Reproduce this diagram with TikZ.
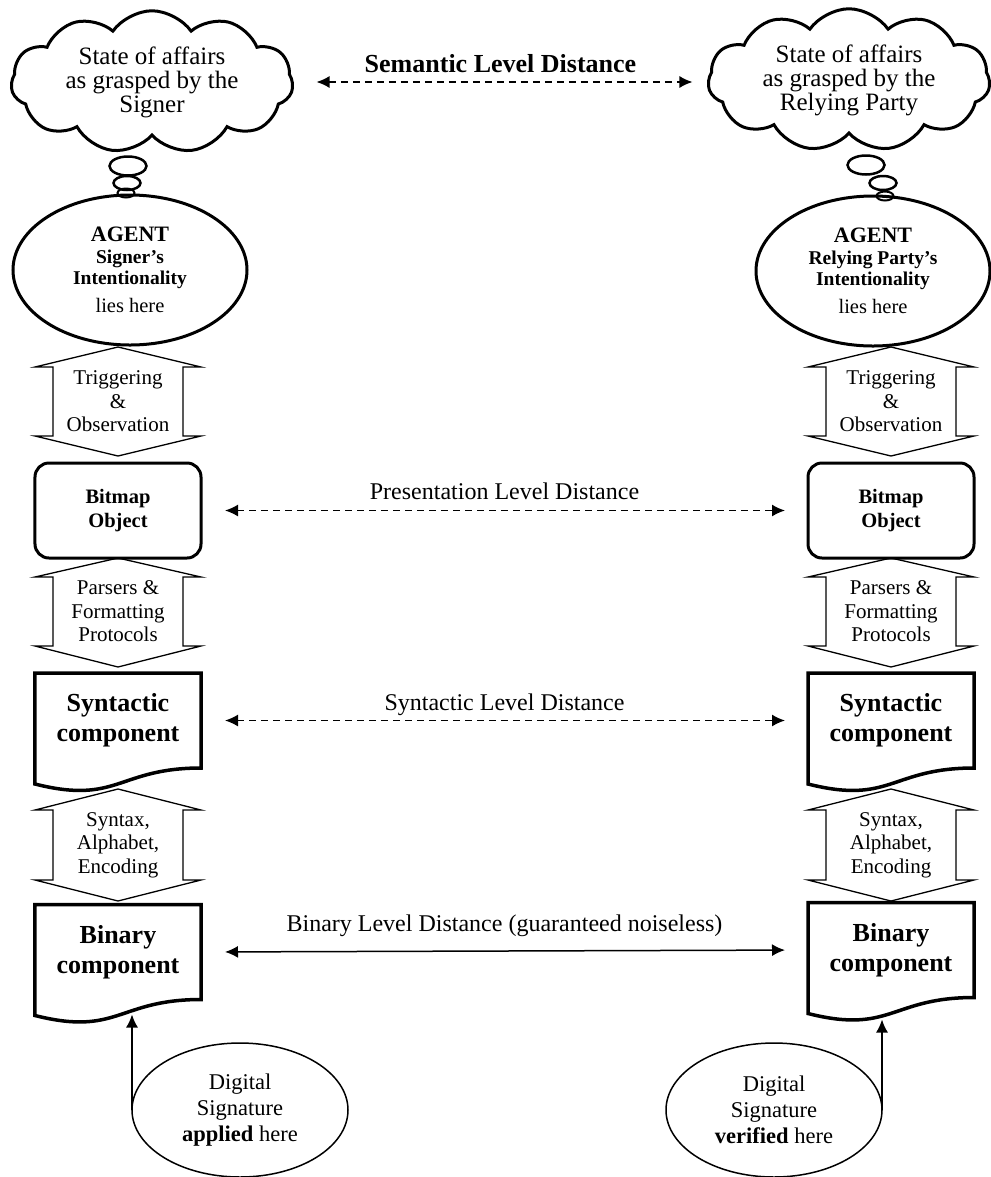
\documentclass[tikz,border=0pt]{standalone}
\usepackage{fontspec}
\setmainfont{Liberation Serif}
\usetikzlibrary{shapes.symbols, shapes.geometric, arrows.meta, calc}
\lineskiplimit=-50pt

\begin{document}
\begin{tikzpicture}[
  x=1bp, y=-1bp,
  every node/.style={align=center, inner sep=0pt, outer sep=0pt},
  thought/.style={cloud, draw, line width=3bp, cloud puffs=11, cloud puff arc=110, aspect=2.2,
    minimum width=282bp, minimum height=132bp, font=\fontsize{25bp}{24bp}\selectfont},
  bubble/.style={ellipse, draw, line width=2.5bp},
  agent/.style={ellipse, draw, line width=3bp, minimum width=234bp, minimum height=150bp,
    font=\fontsize{19.5bp}{21.5bp}\selectfont\bfseries},
  twoway/.style={draw, line width=1.3bp, line join=miter},
  small/.style={font=\fontsize{21bp}{23.5bp}\selectfont},
  bmp/.style={rectangle, draw, rounded corners=14bp, line width=3bp, minimum width=166bp,
    minimum height=95bp, font=\fontsize{20.5bp}{24bp}\selectfont\bfseries},
  docbox/.style={rectangle, minimum width=166bp, minimum height=95bp,
    font=\fontsize{26bp}{30bp}\selectfont\bfseries},
  docline/.style={draw, line width=3.5bp, line join=miter},
  sig/.style={ellipse, draw, line width=1.5bp, minimum width=216bp, minimum height=134bp,
    font=\fontsize{22.5bp}{26bp}\selectfont},
  lbl/.style={anchor=base, font=\fontsize{24bp}{24bp}\selectfont},
  arr/.style={-{Latex[length=13bp,width=12bp]}, line width=1.5bp},
  dasharr/.style={{Latex[length=13bp,width=12bp]}-{Latex[length=13bp,width=12bp]},
    line width=1.5bp, dash pattern=on 7bp off 5bp},
]
\useasboundingbox (0,0) rectangle (991,1177);

% clouds and agents
\node[thought] (cloudL) at (152,82) {State of affairs\\as grasped by the\\Signer};
\node[thought] (cloudR) at (849,80) {State of affairs\\as grasped by the\\Relying Party};
\node[bubble, minimum width=37bp, minimum height=19bp] (bubL1) at (128,166) {};
\node[bubble, minimum width=27bp, minimum height=14bp] (bubL2) at (127,183) {};
\node[bubble, minimum width=17bp, minimum height=9bp, line width=2bp] (bubL3) at (126,193) {};
\node[bubble, minimum width=37bp, minimum height=19bp] (bubR1) at (866,165) {};
\node[bubble, minimum width=27bp, minimum height=14bp] (bubR2) at (883,183) {};
\node[bubble, minimum width=17bp, minimum height=9bp, line width=2bp] (bubR3) at (885,196) {};
\node[agent] (agentL) at (130,270)
  {{\fontsize{22bp}{22bp}\selectfont AGENT}\\Signer’s\\Intentionality\\[6bp]{\mdseries\fontsize{20.5bp}{21.5bp}\selectfont lies here}};
\node[agent] (agentR) at (873,271)
  {{\fontsize{22bp}{22bp}\selectfont AGENT}\\Relying Party’s\\Intentionality\\[6bp]{\mdseries\fontsize{20.5bp}{21.5bp}\selectfont lies here}};

% two-way arrows between the levels
\foreach \side/\cx in {L/118, R/891}{
  \foreach \nm/\ya/\yb/\yc/\yd/\txt in {trig/347/367/436/456/{Triggering\\\&\\Observation},
      pars/558/577/646/667/{Parsers \&\\Formatting\\Protocols},
      enc/789/810/880/901/{Syntax,\\Alphabet,\\Encoding}}{
    \draw[twoway] (\cx,\ya) -- ({\cx+83},\yb) -- ({\cx+65},\yb) -- ({\cx+65},\yc) -- ({\cx+83},\yc)
      -- (\cx,\yd) -- ({\cx-83},\yc) -- ({\cx-65},\yc) -- ({\cx-65},\yb) -- ({\cx-83},\yb) -- cycle;
    \node[small] (\nm\side) at (\cx,{(\yb+\yc)/2}) {\txt};
  }
}

% objects
\node[bmp] (bmpL) at (118,510.5) {Bitmap\\Object};
\node[bmp] (bmpR) at (891,510.5) {Bitmap\\Object};
\node[docbox] (syntL) at (118,720.5) {Syntactic\\component};
\node[docbox] (syntR) at (891,720.5) {Syntactic\\component};
\node[docbox] (binL) at (118,952) {Binary\\component};
\node[docbox] (binR) at (891,950) {Binary\\component};
\foreach \n in {syntL,syntR,binL,binR}
  \draw[docline] (\n.north west) -- (\n.north east) -- (\n.south east)
    .. controls (\n.south) and ($(\n.south)+(0,37)$) .. ($(\n.south west)+(0,16)$) -- cycle;

% signatures
\node[sig] (sigL) at (240,1110) {Digital\\Signature\\\textbf{applied} here};
\node[sig] (sigR) at (774,1110) {Digital\\Signature\\\textbf{verified} here};
\draw[arr, shorten >=15bp] (sigL.west) -- (sigL.west |- binL.south);
\draw[arr, shorten >=22bp] (sigR.east) -- (sigR.east |- binR.south);

% level distances
\draw[dasharr, shorten <=24bp, shorten >=16bp] (cloudL.east) -- (cloudL.east -| cloudR.west)
  node[lbl, midway, yshift=10bp, font=\fontsize{26bp}{26bp}\selectfont\bfseries] (semLbl) {Semantic Level Distance};
\draw[dasharr, shorten <=24bp, shorten >=23bp] (bmpL.east) -- (bmpR.west)
  node[lbl, midway, yshift=11bp] (presLbl) {Presentation Level Distance};
\draw[dasharr, shorten <=24bp, shorten >=23bp] (syntL.east) -- (syntR.west)
  node[lbl, midway, yshift=10.5bp] (syntLbl) {Syntactic Level Distance};
\draw[{Latex[length=13bp,width=12bp]}-{Latex[length=13bp,width=12bp]}, line width=1.5bp,
  shorten <=24bp, shorten >=23bp] (binL.east) -- (binR.west)
  node[lbl, midway, yshift=20bp] (binLbl) {Binary Level Distance (guaranteed noiseless)};
\end{tikzpicture}
\end{document}
